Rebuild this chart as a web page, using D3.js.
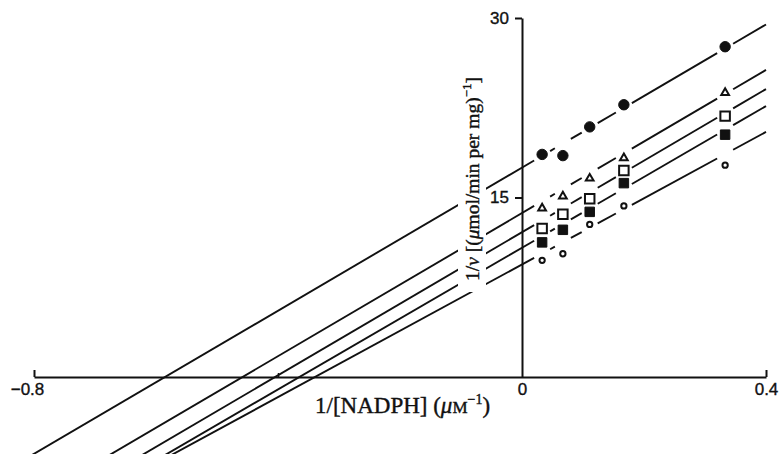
<!DOCTYPE html>
<html>
<head>
<meta charset="utf-8">
<script src="https://cdn.jsdelivr.net/npm/d3@7"></script>
<style>
  body { margin: 0; background: #fff; }
  svg { display: block; }
</style>
</head>
<body>
<svg id="chart"></svg>
<script>
const width = 779, height = 454;

// 1/[NADPH] at which rates were measured
const inverseNadph = [0.033, 0.067, 0.111, 0.167, 0.333];

// 1/v for each series
const filledCircles = [18.6, 18.5, 20.9, 22.75, 27.6];
const openTriangles = [14.1, 15.1, 16.6, 18.3, 23.75];
const openSquares = [12.4, 13.6, 14.9, 17.25, 21.8];
const filledSquares = [11.25, 12.3, 13.8, 16.2, 20.25];
const openCircles = [9.75, 10.3, 12.75, 14.3, 17.7];

// drawn lines (same order as the series): intercept on 1/v axis and slope
const intercepts = [17.5, 13.7, 12.1, 10.8, 9.4];
const slopes = [29.9, 29.9, 29.9, 29.6, 27.7];

// axis ticks
const xTicks = [-0.8, -0.4, 0, 0.4];
const xTickLabels = ["\u22120.8", "", "0", "0.4"];
const yTicks = [15, 30];

const svg = d3.select("#chart")
    .attr("width", width)
    .attr("height", height)
    .style("background", "#fff");

const x = d3.scaleLinear()
    .domain([-0.8, 0.4])
    .range([34, 766]);

const y = d3.scaleLinear()
    .domain([0, 30])
    .range([377, 18]);

const ink = "#111";

const series = [
    { values: filledCircles, shape: "circle", filled: true },
    { values: openTriangles, shape: "triangle", filled: false },
    { values: openSquares, shape: "square", filled: false },
    { values: filledSquares, shape: "square", filled: true },
    { values: openCircles, shape: "smallcircle", filled: false }
];

// Lines, broken where their own points sit
const gap = x.invert(x(0) + 8) - x.invert(x(0));
const line = d3.line().x(d => x(d[0])).y(d => y(d[1]));

series.forEach(function(s, i) {
    const a = intercepts[i], b = slopes[i];
    const xStart = (y.invert(height + 4) - a) / b;
    const pieces = [];
    let from = xStart;
    inverseNadph.forEach(function(m) {
        pieces.push([from, m - gap]);
        from = m + gap;
    });
    pieces.push([from, 0.4]);

    svg.append("g").selectAll("path")
        .data(pieces)
        .enter().append("path")
        .attr("d", p => line([[p[0], a + b * p[0]], [p[1], a + b * p[1]]]))
        .attr("fill", "none")
        .attr("stroke", ink)
        .attr("stroke-width", 1.9);
});

// white space behind the y label (lines are broken there)
svg.append("rect")
    .attr("x", 458)
    .attr("y", 66)
    .attr("width", 28)
    .attr("height", 226)
    .attr("fill", "#fff");

// x axis
const xAxis = svg.append("g")
    .attr("transform", `translate(0, ${y(0)})`)
    .call(d3.axisBottom(x)
        .tickValues(xTicks)
        .tickFormat((d, i) => xTickLabels[i])
        .tickSizeInner(-7)
        .tickSizeOuter(0)
        .tickPadding(6));

xAxis.select(".domain").attr("stroke", ink).attr("stroke-width", 2);
xAxis.selectAll(".tick line").attr("stroke", ink).attr("stroke-width", 2);
xAxis.selectAll(".tick").filter(d => d === -0.4).select("line").attr("y2", -4).attr("stroke-width", 1.5);
xAxis.selectAll(".tick").filter(d => d === 0).select("line").remove();
xAxis.selectAll(".tick text")
    .attr("fill", ink)
    .attr("stroke", ink)
    .attr("stroke-width", 0.35)
    .style("font-family", "'Liberation Sans', Arial, sans-serif")
    .style("font-size", "17px");
xAxis.selectAll(".tick").filter(d => d === -0.8).select("text").attr("dx", -7);

// y axis
const yAxis = svg.append("g")
    .attr("transform", `translate(${x(0)}, 0)`)
    .call(d3.axisLeft(y)
        .tickValues(yTicks)
        .tickSizeInner(7)
        .tickSizeOuter(0)
        .tickPadding(6));

yAxis.select(".domain").attr("stroke", ink).attr("stroke-width", 2);
yAxis.selectAll(".tick line").attr("stroke", ink).attr("stroke-width", 2);
yAxis.selectAll(".tick text")
    .attr("fill", ink)
    .attr("stroke", ink)
    .attr("stroke-width", 0.35)
    .style("font-family", "'Liberation Sans', Arial, sans-serif")
    .style("font-size", "17px");

// Points
const symbols = {
    circle: d3.symbol().type(d3.symbolCircle).size(85),
    triangle: d3.symbol().type(d3.symbolTriangle).size(26),
    square: d3.symbol().type(d3.symbolSquare).size(90),
    smallcircle: d3.symbol().type(d3.symbolCircle).size(22)
};

series.forEach(function(s) {
    svg.append("g").selectAll("path")
        .data(s.values)
        .enter().append("path")
        .attr("transform", (d, i) => `translate(${x(inverseNadph[i])}, ${y(d)})`)
        .attr("d", symbols[s.shape]())
        .attr("fill", s.filled ? ink : "#fff")
        .attr("stroke", ink)
        .attr("stroke-width", s.filled ? 1 : 2);
});

// Axis titles
const xLabel = svg.append("text")
    .attr("x", 315)
    .attr("y", 413)
    .attr("fill", ink)
    .attr("stroke", ink)
    .attr("stroke-width", 0.4)
    .style("font-family", "'Liberation Serif', 'Times New Roman', serif")
    .style("font-size", "23px");
xLabel.append("tspan").text("1/[NADPH] (");
xLabel.append("tspan").style("font-style", "italic").text("\u03bc");
xLabel.append("tspan").style("font-size", "17px").text("M");
xLabel.append("tspan").attr("dy", -9).style("font-size", "14px").text("\u22121");
xLabel.append("tspan").attr("dy", 9).text(")");

const yLabel = svg.append("text")
    .attr("transform", "translate(479, 179) rotate(-90)")
    .attr("text-anchor", "middle")
    .attr("fill", ink)
    .attr("stroke", ink)
    .attr("stroke-width", 0.4)
    .style("font-family", "'Liberation Serif', 'Times New Roman', serif")
    .style("font-size", "19.5px");
yLabel.append("tspan").text("1/");
yLabel.append("tspan").style("font-style", "italic").text("v");
yLabel.append("tspan").text(" [(");
yLabel.append("tspan").style("font-style", "italic").text("\u03bc");
yLabel.append("tspan").text("mol/min per mg)");
yLabel.append("tspan").attr("dy", -8).style("font-size", "13px").text("\u22121");
yLabel.append("tspan").attr("dy", 8).text("]");
</script>
</body>
</html>
